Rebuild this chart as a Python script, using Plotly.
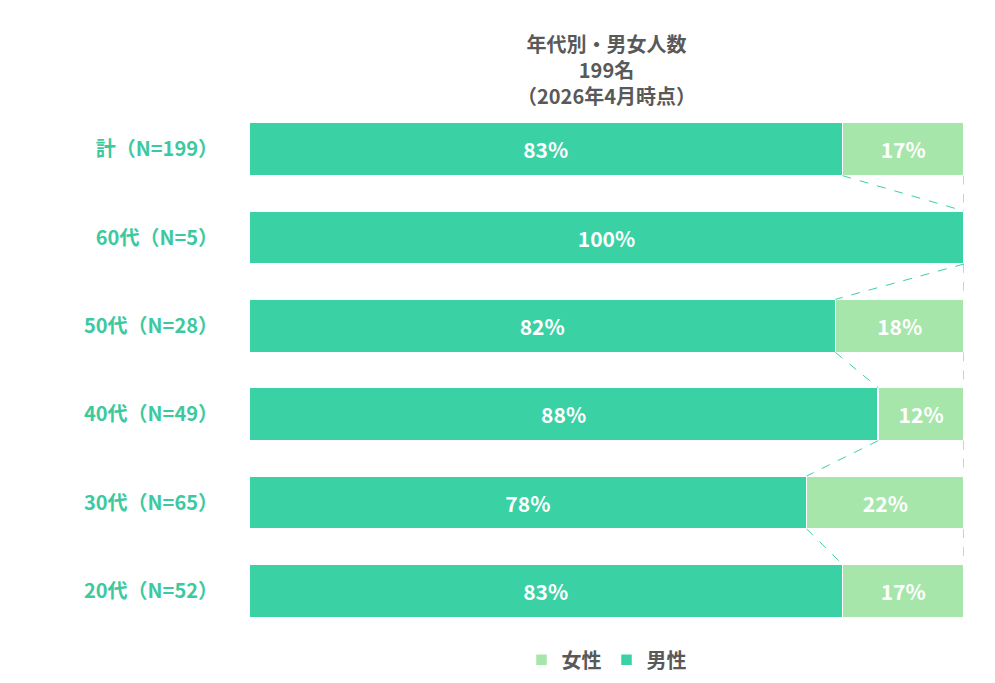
import plotly.graph_objects as go

categories = ["計（N=199）", "60代（N=5）", "50代（N=28）", "40代（N=49）", "30代（N=65）", "20代（N=52）"]
male = [83, 100, 82, 88, 78, 83]
female = [17, 0, 18, 12, 22, 17]
series_names = ["男性", "女性"]
title_lines = ["年代別・男女人数", "199名", "（2026年4月時点）"]

C_M = "#3ad1a5"
C_F = "#a6e6aa"
FONT = "Noto Sans CJK JP"
ys = list(range(len(categories)))

fig = go.Figure()
for name, vals, col in [(series_names[0], male, C_M), (series_names[1], female, C_F)]:
    fig.add_trace(go.Bar(
        y=ys, x=vals, name=name, orientation="h", marker=dict(color=col, line=dict(color="white", width=1.5)),
        text=[f"{v}%" if v > 0 else "" for v in vals], textposition="inside", insidetextanchor="middle",
        textfont=dict(color="white", size=21, family=FONT, weight="bold"), width=0.6,
    ))

shapes = []
for i in range(len(categories) - 1):
    for x0, x1 in [(male[i], male[i + 1]), (100, 100)]:
        shapes.append(dict(type="line", xref="x", yref="y", x0=x0, x1=x1, y0=i + 0.3, y1=i + 0.7,
                           line=dict(color=C_M, width=1, dash="dash")))

fig.update_layout(
    barmode="stack", width=995, height=683, plot_bgcolor="white", paper_bgcolor="white",
    margin=dict(l=241, r=39, t=97, b=48), shapes=shapes, bargap=0.4,
    font=dict(family=FONT),
    xaxis=dict(range=[0, 100], visible=False),
    yaxis=dict(range=[5.5, -0.5], tickvals=ys, ticktext=categories, showgrid=False, zeroline=False,
               tickfont=dict(color="#3cc99f", size=20, family=FONT, weight="bold"), ticklabelstandoff=30),
    legend=dict(orientation="h", x=0.5, xanchor="center", y=-0.01, yanchor="top",
                font=dict(size=20, color="#595959", family=FONT, weight="bold")),
    annotations=[dict(text="<br>".join(title_lines), x=0.5, xref="paper", y=1.147, yref="paper", yanchor="top",
                      showarrow=False, font=dict(size=20, color="#595959", family=FONT, weight="bold"))],
)
fig.write_html("out.html")
